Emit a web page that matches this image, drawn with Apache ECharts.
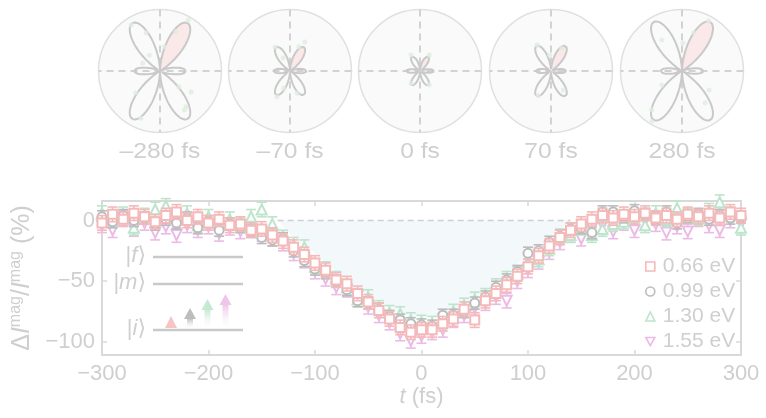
<!DOCTYPE html>
<html>
<head>
<meta charset="utf-8">
<script src="https://cdn.jsdelivr.net/npm/echarts@6/dist/echarts.min.js"></script>
<style>
  html, body { margin: 0; padding: 0; background: #ffffff; }
  #chart { width: 766px; height: 418px; }
</style>
</head>
<body>
<div id="chart"></div>
<script>
// ---------- polarimetry panels (top row) ----------
const delayLabels = ['–280 fs', '–70 fs', '0 fs', '70 fs', '280 fs'];
// fitted lobe amplitudes (fraction of panel radius)
const diagLobe  = [0.90, 0.45, 0.27, 0.47, 0.92];
const horizLobe = [0.42, 0.27, 0.23, 0.25, 0.35];
// measured points [radius, angle in degrees]
const polarPts0 = [[0.88,122],[0.66,110],[0.69,68],[0.95,61],[0.40,80],[0.53,222],[0.83,248],[0.72,306],[0.75,302],[0.61,326],[0.40,320],[0.31,155],[0.31,124]];
const polarPts1 = [[0.46,122],[0.53,63],[0.47,243],[0.38,288],[0.24,118],[0.42,70],[0.30,250]];
const polarPts2 = [[0.30,119],[0.30,60],[0.25,235],[0.27,304]];
const polarPts3 = [[0.48,118],[0.41,65],[0.45,242],[0.37,303],[0.26,95]];
const polarPts4 = [[0.92,62],[0.65,73],[0.80,232],[0.96,239],[0.40,215],[0.64,306],[0.54,325],[0.60,123],[0.45,88]];
const polarPts = [polarPts0, polarPts1, polarPts2, polarPts3, polarPts4];

// ---------- transient (bottom panel) ----------
const delays = [-300,-290,-280,-270,-260,-250,-240,-230,-220,-210,-200,-190,-180,-170,-160,-150,-140,-130,-120,-110,
  -100,-90,-80,-70,-60,-50,-40,-30,-20,-10,0,10,20,30,40,50,60,70,80,90,100,110,120,130,140,150,160,170,180,190,
  200,210,220,230,240,250,260,270,280,290,300];
const dm066 = [-2,5,1,6,3,-1,4,7,0,3,-2,1,-4,-3,-8,-7,-12,-17,-22,-28,
  -35,-41,-49,-52,-60,-67,-74,-81,-88,-92,-90,-90,-85,-81,-73,-82,-66,-60,-53,-46,
  -38,-29,-21,-14,-8,-3,1,4,2,5,3,6,2,4,1,5,3,6,2,7,4];
const dm099 = [3,-1,4,0,2,-3,1,-2,2,-6,-1,-8,-3,-5,-9,-14,-16,-15,-25,-33,
  -40,-43,-50,-57,-66,-68,-73,-79,-82,-85,-86,-87,-78,-78,-75,-68,-63,-55,-49,-42,
  -27,-25,-18,-13,-7,-6,-10,7,7,3,8,5,2,7,-2,3,5,1,4,2,3];
const dm130 = [6,0,5,-6,4,9,12,2,6,-4,3,-2,1,-4,3,9,-3,-14,-20,-22,
  -38,-40,-48,-55,-65,-63,-72,-76,-77,-82,-84,-85,-83,-75,-70,-65,-62,-54,-48,-44,
  -34,-32,-23,-13,-12,-6,-12,-7,-3,-1,3,-4,6,1,10,4,2,8,15,5,-6];
const dm155 = [-4,-8,2,-7,-2,-10,-5,-12,-4,-8,-5,-11,-6,-9,-7,-11,-15,-19,-27,-33,
  -42,-48,-55,-57,-62,-71,-78,-84,-93,-99,-95,-92,-90,-82,-78,-72,-68,-63,-66,-50,
  -41,-34,-26,-18,-12,-15,-6,-4,-9,-2,-8,0,-3,-10,-5,-9,1,-4,-8,0,-3];
const errHalf = [6, 5, 6, 6];
// smooth fit through the 0.66 eV trace
const fitT = [-300,-280,-260,-240,-220,-200,-180,-160,-140,-120,-100,-80,-60,-40,-20,0,20,40,60,80,100,120,140,160,180,200,220,240,260,280,300];
const fitV = [2,2,1.5,1,0,-1,-3,-6,-11,-20,-33,-47,-60,-72,-83,-88,-85,-77,-66,-53,-38,-23,-10,-1,3,4,4,4,4,4,4];
// demagnetised region between the baseline and the transient
const shadeT = [-135,-120,-100,-80,-60,-40,-20,0,20,40,60,80,100,120,140];
const shadeV = [0,-14,-27,-42,-56,-68,-77,-80,-78,-70,-58,-44,-28,-14,0];
const baseline = [[-135, 0], [140, 0]];

const seriesNames = ['0.66 eV', '0.99 eV', '1.30 eV', '1.55 eV'];
const seriesVals = [dm066, dm099, dm130, dm155];
const seriesColors = ['#f5b9b9', '#bcbcbc', '#bde5cb', '#ebbbe6'];
const seriesSymbols = ['rect', 'circle', 'triangle', 'path://M0,0L10,0L5,9Z'];
const seriesSizes = [9, 9, 10, 10];

const FONT = 'Liberation Sans, Arial, sans-serif';
const TXT = '#cfcfcf';
const AXIS = '#d9d9d9';

const chart = echarts.init(document.getElementById('chart'));

// ----- polar layout -----
const polarCx = [160, 290, 420, 551, 682];
const polarCy = 71, polarR = 61.5;

// six-fold pattern: weak lobes along the horizontal, strong lobes at ±60° from it
function lobeRadius(k, deg) {
  const d = ((deg % 360) + 360) % 360;
  const th = d * Math.PI / 180;
  const c = Math.abs(Math.cos(3 * th));
  const horizontal = (d < 30 || d >= 330 || (d >= 150 && d < 210));
  return horizontal ? horizLobe[k] * Math.pow(c, 2.2) : diagLobe[k] * Math.pow(c, 1.4);
}

const polar = [], angleAxis = [], radiusAxis = [], series = [], graphics = [];
for (let k = 0; k < 5; k++) {
  polar.push({ center: [polarCx[k], polarCy], radius: polarR });
  angleAxis.push({
    polarIndex: k, type: 'value', min: 0, max: 360, interval: 90,
    startAngle: 0, clockwise: false,
    axisLine: { lineStyle: { color: '#e0e0e0', width: 1.5 } },
    axisTick: { show: false }, axisLabel: { show: false },
    splitLine: { show: false },
    splitArea: { show: true, areaStyle: { color: ['#fafafa'] } }
  });
  radiusAxis.push({
    polarIndex: k, min: 0, max: 1,
    axisLine: { show: false }, axisTick: { show: false },
    axisLabel: { show: false }, splitLine: { show: false }
  });
  // dashed cross hairs through the centre
  [[0, 180], [90, 270]].forEach(function (pair) {
    series.push({
      type: 'line', coordinateSystem: 'polar', polarIndex: k, silent: true,
      data: [[1, pair[0]], [0, pair[0]], [1, pair[1]]], showSymbol: false,
      lineStyle: { color: '#d2d2d2', width: 2, type: [7, 5] }, z: 1
    });
  });
  // shaded lobe (first quadrant)
  series.push({
    type: 'custom', coordinateSystem: 'polar', polarIndex: k, silent: true, z: 2,
    data: [[0, 0]],
    renderItem: (function (kk) {
      return function (params, api) {
        const pts = [api.coord([0, 60])];
        for (let a = 30; a <= 90; a += 1) pts.push(api.coord([lobeRadius(kk, a), a]));
        return { type: 'polygon', shape: { points: pts }, style: { fill: '#fbe9e9' } };
      };
    })(k)
  });
  const curve = [];
  for (let a = 0; a <= 360; a += 1) curve.push([lobeRadius(k, a), a]);
  series.push({
    type: 'line', coordinateSystem: 'polar', polarIndex: k, silent: true, z: 3,
    data: curve, showSymbol: false, smooth: false,
    lineStyle: { color: '#c9c9c9', width: 2 }
  });
  series.push({
    type: 'scatter', coordinateSystem: 'polar', polarIndex: k, silent: true, z: 4,
    data: polarPts[k], symbolSize: 5,
    itemStyle: { color: '#dfeedf' }
  });
  graphics.push({
    type: 'text', x: polarCx[k], y: 152, scaleX: 1.12,
    style: { text: delayLabels[k], align: 'center', verticalAlign: 'middle',
      fontSize: 22, fontFamily: FONT, fill: TXT }
  });
}

// ----- bottom panel series -----
series.push({
  type: 'line', xAxisIndex: 0, yAxisIndex: 0, silent: true,
  data: shadeT.map((t, i) => [t, shadeV[i]]),
  showSymbol: false, lineStyle: { width: 0, opacity: 0 },
  areaStyle: { color: '#f3f9fb', opacity: 1, origin: 0 }, z: 1
});
series.push({
  type: 'line', xAxisIndex: 0, yAxisIndex: 0, silent: true,
  data: baseline, showSymbol: false,
  lineStyle: { color: '#cfcfcf', width: 1.5, type: [6, 4] }, z: 2
});
series.push({
  type: 'line', xAxisIndex: 0, yAxisIndex: 0, silent: true,
  data: fitT.map((t, i) => [t, fitV[i]]), smooth: true, showSymbol: false,
  lineStyle: { color: '#f6c3c3', width: 2.5 }, z: 3
});
for (let j = 3; j >= 0; j--) {
  const col = seriesColors[j];
  const pts = delays.map((t, i) => [t, seriesVals[j][i], errHalf[j]]);
  series.push({
    type: 'custom', xAxisIndex: 0, yAxisIndex: 0, silent: true, clip: false,
    data: pts, z: 4 + (3 - j) * 2,
    renderItem: function (params, api) {
      const t = api.value(0), v = api.value(1), e = api.value(2);
      const top = api.coord([t, v + e]), bot = api.coord([t, v - e]);
      const w = 5, st = { stroke: col, lineWidth: 1.6 };
      return { type: 'group', children: [
        { type: 'line', shape: { x1: top[0], y1: top[1], x2: bot[0], y2: bot[1] }, style: st },
        { type: 'line', shape: { x1: top[0] - w, y1: top[1], x2: top[0] + w, y2: top[1] }, style: st },
        { type: 'line', shape: { x1: bot[0] - w, y1: bot[1], x2: bot[0] + w, y2: bot[1] }, style: st }
      ] };
    }
  });
  series.push({
    name: seriesNames[j], type: 'scatter', xAxisIndex: 0, yAxisIndex: 0, clip: false,
    data: pts.map(p => [p[0], p[1]]), z: 5 + (3 - j) * 2,
    symbol: seriesSymbols[j], symbolSize: seriesSizes[j],
    itemStyle: { color: '#ffffff', borderColor: col, borderWidth: 2, opacity: 1 }
  });
}

// ----- level scheme inset -----
const levelY = { f: 257, m: 284, i: 330 };
['f', 'm', 'i'].forEach(function (lv) {
  graphics.push({ type: 'line', shape: { x1: 153, y1: levelY[lv], x2: 243, y2: levelY[lv] },
    style: { stroke: '#c9c9c9', lineWidth: 2.5 } });
  graphics.push({ type: 'text', x: 146, y: levelY[lv] - 1,
    style: { text: '{n||}{it|' + lv + '}{b|⟩}', align: 'right', verticalAlign: 'middle',
      rich: {
        n: { fontSize: 22, fontFamily: FONT, fill: TXT, color: TXT },
        it: { fontSize: 22, fontFamily: FONT, fontStyle: 'italic', fill: TXT, color: TXT },
        b: { fontSize: 22, fontFamily: 'DejaVu Sans, sans-serif', fill: TXT, color: TXT }
      } } });
});
const arrowX = [171, 190, 207.5, 225.5];
const arrowTip = [316, 308, 299, 294];
const arrowCol = ['#f7c4c4', '#bdbdbd', '#c5e9d3', '#eec6ea'];
for (let a = 0; a < 4; a++) {
  const cx = arrowX[a], tip = arrowTip[a], headBase = a === 0 ? 328 : tip + 11;
  if (a > 0) {
    graphics.push({ type: 'rect', shape: { x: cx - 3, y: headBase - 0.5, width: 6, height: 329 - headBase },
      style: { fill: new echarts.graphic.LinearGradient(0, 0, 0, 1, [
        { offset: 0, color: arrowCol[a] }, { offset: 1, color: 'rgba(255,255,255,0.2)' }]) } });
  }
  graphics.push({ type: 'polygon', shape: { points: [[cx - 6, headBase], [cx + 6, headBase], [cx, tip]] },
    style: { fill: arrowCol[a] } });
}

const minusFmt = v => String(v).replace('-', '−');

const option = {
  backgroundColor: '#ffffff',
  animation: false,
  textStyle: { fontFamily: FONT },
  polar: polar,
  angleAxis: angleAxis,
  radiusAxis: radiusAxis,
  grid: { left: 100, right: 25, top: 201, bottom: 63, containLabel: false },
  legend: {
    data: seriesNames, orient: 'vertical', left: 640, top: 251,
    itemWidth: 9, itemHeight: 9, itemGap: 4,
    itemStyle: { borderWidth: 1.6 },
    textStyle: { fontSize: 21, color: TXT, fontFamily: FONT, padding: [0, 0, 0, 3] },
    selectedMode: false
  },
  xAxis: [{
    type: 'value', min: -300, max: 300, interval: 100, position: 'bottom',
    axisLine: { onZero: false, lineStyle: { color: AXIS, width: 2 } },
    axisTick: { inside: true, length: 5, lineStyle: { color: AXIS, width: 1.5 } },
    axisLabel: { fontSize: 22, color: TXT, margin: 8, formatter: minusFmt, fontFamily: FONT },
    splitLine: { show: false },
    name: '{it|t} (fs)', nameLocation: 'middle', nameGap: 31,
    nameTextStyle: { fontSize: 22, color: TXT, fontFamily: FONT,
      rich: { it: { fontSize: 22, fontStyle: 'italic', color: TXT, fontFamily: FONT } } }
  }, {
    type: 'value', min: -300, max: 300, interval: 100, position: 'top',
    axisLine: { onZero: false, lineStyle: { color: AXIS, width: 2 } },
    axisTick: { inside: true, length: 5, lineStyle: { color: AXIS, width: 1.5 } },
    axisLabel: { show: false }, splitLine: { show: false }
  }],
  yAxis: [{
    type: 'value', min: -110.7, max: 16, position: 'left',
    axisLine: { onZero: false, lineStyle: { color: AXIS, width: 2 } },
    axisTick: { inside: true, length: 5, customValues: [-100, -50, 0], lineStyle: { color: AXIS, width: 1.5 } },
    axisLabel: { customValues: [-100, -50, 0], fontSize: 22, color: TXT, margin: 7, formatter: minusFmt, fontFamily: FONT },
    splitLine: { show: false },
    name: '{d|Δ}{i|I}{s|mag}{d|/}{i|I}{s|mag}{d| (%)}', nameLocation: 'middle', nameGap: 60, nameRotate: 90,
    nameTextStyle: { color: TXT, fontFamily: FONT, rich: {
      d: { fontSize: 25, color: TXT, fontFamily: FONT, lineHeight: 28 },
      i: { fontSize: 25, color: TXT, fontFamily: FONT, fontStyle: 'italic', lineHeight: 28 },
      s: { fontSize: 16, color: TXT, fontFamily: FONT, verticalAlign: 'top', lineHeight: 16 }
    } }
  }, {
    type: 'value', min: -110.7, max: 16, position: 'right',
    axisLine: { onZero: false, lineStyle: { color: AXIS, width: 2 } },
    axisTick: { inside: true, length: 5, customValues: [-100, -50, 0], lineStyle: { color: AXIS, width: 1.5 } },
    axisLabel: { show: false }, splitLine: { show: false }
  }],
  graphic: graphics,
  series: series
};
chart.setOption(option);
</script>
</body>
</html>
